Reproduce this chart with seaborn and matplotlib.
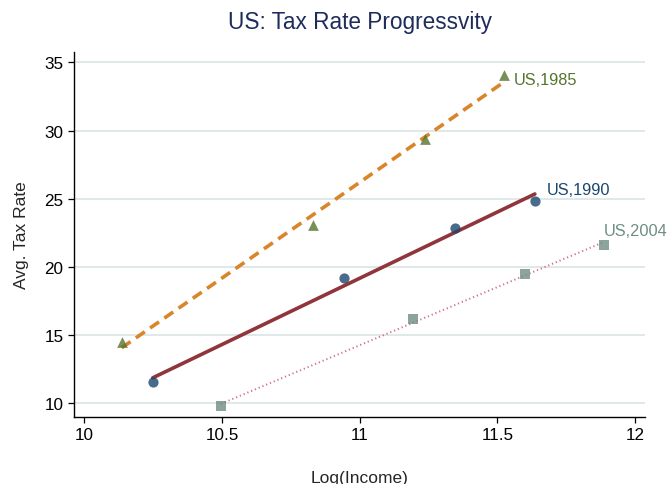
import numpy as np
import pandas as pd
import matplotlib
matplotlib.use("Agg")
import matplotlib.pyplot as plt
import seaborn as sns

# Log income vs. average tax rate, by survey year
income_1985 = [10.135, 10.830, 11.238, 11.525]
rate_1985 = [14.47, 23.09, 29.38, 34.07]

income_1990 = [10.248, 10.943, 11.347, 11.636]
rate_1990 = [11.54, 19.16, 22.83, 24.85]

income_2004 = [10.496, 11.192, 11.599, 11.887]
rate_2004 = [9.80, 16.18, 19.48, 21.60]

series_labels = ["US,1985", "US,1990", "US,2004"]
x_ticks = [10, 10.5, 11, 11.5, 12]
x_tick_labels = ["10", "10.5", "11", "11.5", "12"]
y_ticks = [10, 15, 20, 25, 30, 35]

sns.set_style("white")
plt.rcParams["font.family"] = ["Liberation Sans", "DejaVu Sans"]

NAVY = "#1a476f"
MAROON = "#90353b"
GREEN = "#55752f"
ORANGE = "#d9852a"
TEAL = "#6e8e84"
CRANBERRY = "#d06a82"

fig = plt.figure(figsize=(6.68, 4.85), dpi=100)
ax = fig.add_axes([74 / 668, 1 - 417.7 / 485, (645 - 74) / 668, (417.7 - 52.7) / 485])

df85 = pd.DataFrame({"income": income_1985, "rate": rate_1985})
df90 = pd.DataFrame({"income": income_1990, "rate": rate_1990})
df04 = pd.DataFrame({"income": income_2004, "rate": rate_2004})

sns.regplot(data=df85, x="income", y="rate", ax=ax, ci=None, truncate=True,
            marker="^",
            scatter_kws=dict(color=GREEN, s=60, linewidths=0, zorder=3),
            line_kws=dict(color=ORANGE, lw=2.6, linestyle=(0, (3.0, 1.8)), zorder=2))
sns.regplot(data=df90, x="income", y="rate", ax=ax, ci=None, truncate=True,
            marker="o",
            scatter_kws=dict(color=NAVY, s=54, linewidths=0, zorder=3),
            line_kws=dict(color=MAROON, lw=2.6, linestyle="-", zorder=2))
sns.regplot(data=df04, x="income", y="rate", ax=ax, ci=None, truncate=True,
            marker="s",
            scatter_kws=dict(color=TEAL, s=50, linewidths=0, zorder=3),
            line_kws=dict(color=CRANBERRY, lw=1.4, linestyle=(0, (0.6, 1.5)), zorder=2))

# Series labels next to the last point of each year
ax.annotate(series_labels[0], (income_1985[-1], rate_1985[-1]), xytext=(7, -3),
            textcoords="offset points", ha="left", va="center",
            color=GREEN, fontsize=11.8, annotation_clip=False)
ax.annotate(series_labels[1], (income_1990[-1], rate_1990[-1]), xytext=(8.5, 8),
            textcoords="offset points", ha="left", va="center",
            color=NAVY, fontsize=11.8, annotation_clip=False)
ax.annotate(series_labels[2], (income_2004[-1], rate_2004[-1]), xytext=(-0.5, 10.5),
            textcoords="offset points", ha="left", va="center",
            color=TEAL, fontsize=11.8, annotation_clip=False)

ax.set_xlim(9.962, 12.036)
ax.set_ylim(9.02, 35.78)
ax.set_xticks(x_ticks)
ax.set_xticklabels(x_tick_labels)
ax.set_yticks(y_ticks)

ax.yaxis.grid(True, color="#dde7e7", lw=1.3)
ax.xaxis.grid(False)
ax.set_axisbelow(True)

for side in ["top", "right"]:
    ax.spines[side].set_visible(False)
for side in ["left", "bottom"]:
    ax.spines[side].set_color("black")
    ax.spines[side].set_linewidth(1.0)

ax.tick_params(axis="both", which="major", direction="out", length=4.5, width=0.9,
               color="black", labelsize=12.3, labelcolor="black", pad=3,
               left=True, bottom=True)

ax.set_xlabel("Log(Income)", fontsize=12.5, labelpad=20)
ax.set_ylabel("Avg. Tax Rate", fontsize=12.5, labelpad=11)

fig.text((74 + 645) / 2 / 668, 1 - 22 / 485, "US: Tax Rate Progressvity",
         ha="center", va="center", fontsize=16.3, color="#1e2c5c")

fig.savefig("out.png", dpi=100)
